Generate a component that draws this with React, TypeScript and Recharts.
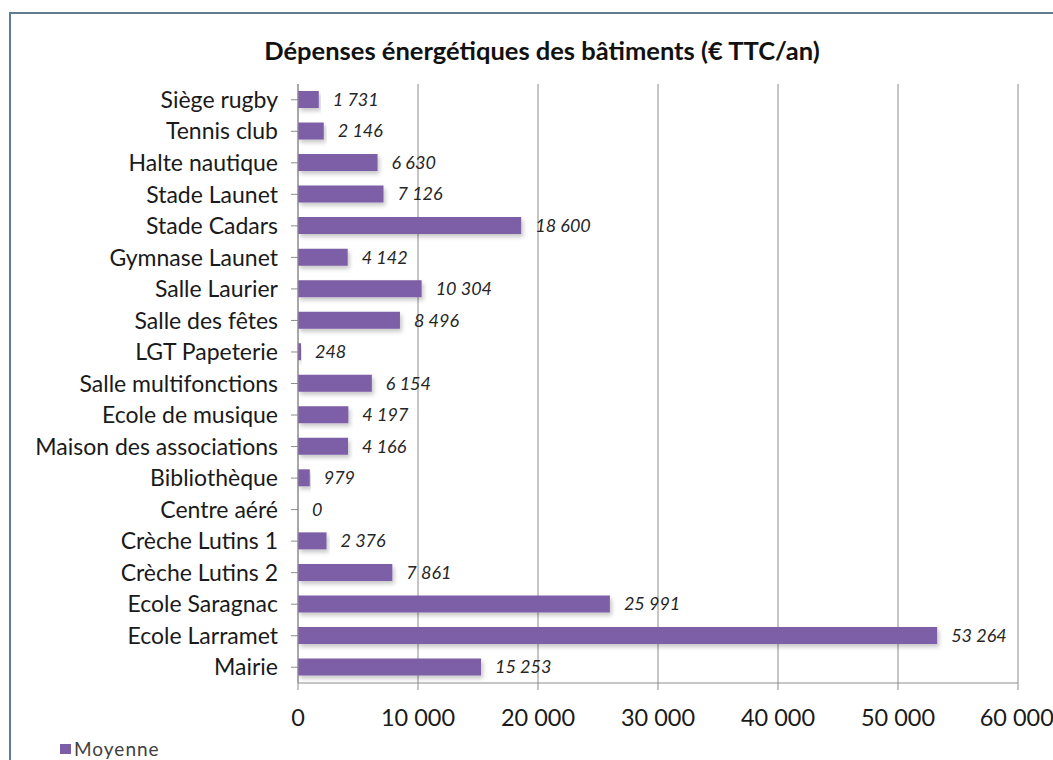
import { BarChart, Bar, XAxis, YAxis, CartesianGrid, LabelList, Rectangle } from "recharts";

const buildings = [
  "Siège rugby",
  "Tennis club",
  "Halte nautique",
  "Stade Launet",
  "Stade Cadars",
  "Gymnase Launet",
  "Salle Laurier",
  "Salle des fêtes",
  "LGT Papeterie",
  "Salle multifonctions",
  "Ecole de musique",
  "Maison des associations",
  "Bibliothèque",
  "Centre aéré",
  "Crèche Lutins 1",
  "Crèche Lutins 2",
  "Ecole Saragnac",
  "Ecole Larramet",
  "Mairie",
];

const moyenne = [
  1731, 2146, 6630, 7126, 18600, 4142, 10304, 8496, 248, 6154, 4197, 4166, 979, 0, 2376, 7861, 25991,
  53264, 15253,
];

const xTicks = [0, 10000, 20000, 30000, 40000, 50000, 60000];

const data = buildings.map((name, i) => ({ name, moyenne: moyenne[i] }));

const fmt = (v: number) => String(v).replace(/\B(?=(\d{3})+(?!\d))/g, " ");

const FONT = "Lato, 'Open Sans', sans-serif";
const PURPLE = "#7b5ea7";
const GRID = "#8c8c8c";

export default function App() {
  return (
    <div style={{ position: "absolute", left: 0, top: 0, width: 1053, height: 760, background: "#fff", fontFamily: FONT }}>
      <div
        style={{
          position: "absolute",
          left: 9,
          top: 12,
          width: 1044,
          height: 748,
          borderTop: "2px solid #5f7d8c",
          borderLeft: "2px solid #5f7d8c",
        }}
      />
      <div
        style={{
          position: "absolute",
          left: 0,
          width: 1084,
          top: 35,
          textAlign: "center",
          fontSize: 25.5,
          fontWeight: 700,
          color: "#111",
        }}
      >
        Dépenses énergétiques des bâtiments (€ TTC/an)
      </div>
      <div style={{ position: "absolute", left: 0, top: 0 }}>
        <BarChart
          width={1053}
          height={760}
          data={data}
          layout="vertical"
          margin={{ top: 84, right: 35, bottom: 37, left: 0 }}
          barCategoryGap={0}
          barSize={17}
        >
          <defs>
            <filter id="barShadow" x="-5%" y="-30%" width="115%" height="180%">
              <feDropShadow dx="2" dy="3" stdDeviation="2" floodColor="#000" floodOpacity="0.22" />
            </filter>
          </defs>
          <CartesianGrid horizontal={false} stroke={GRID} strokeWidth={1} />
          <XAxis
            type="number"
            domain={[0, 60000]}
            ticks={xTicks}
            tickFormatter={fmt}
            height={40}
            stroke={GRID}
            tickSize={7}
            tickMargin={19}
            tick={{ fill: "#1a1a1a", fontSize: 23.5, fontFamily: FONT }}
          />
          <YAxis
            type="category"
            dataKey="name"
            width={298}
            stroke={GRID}
            tickSize={7}
            tickMargin={13}
            interval={0}
            tick={{ fill: "#1a1a1a", fontSize: 23, fontFamily: FONT }}
          />
          <Bar
            dataKey="moyenne"
            fill={PURPLE}
            isAnimationActive={false}
            shape={(props: any) => <Rectangle {...props} filter="url(#barShadow)" />}
          >
            <LabelList
              dataKey="moyenne"
              position="right"
              offset={14}
              formatter={(v: any) => fmt(Number(v))}
              style={{ fill: "#262626", fontSize: 18, fontStyle: "italic", fontFamily: FONT }}
            />
          </Bar>
        </BarChart>
      </div>
      <div
        style={{
          position: "absolute",
          left: 60,
          top: 737,
          display: "flex",
          alignItems: "center",
          fontSize: 19,
          letterSpacing: 1,
          color: "#404040",
        }}
      >
        <span style={{ display: "inline-block", width: 11, height: 10, background: PURPLE, marginRight: 3 }} />
        Moyenne
      </div>
    </div>
  );
}
